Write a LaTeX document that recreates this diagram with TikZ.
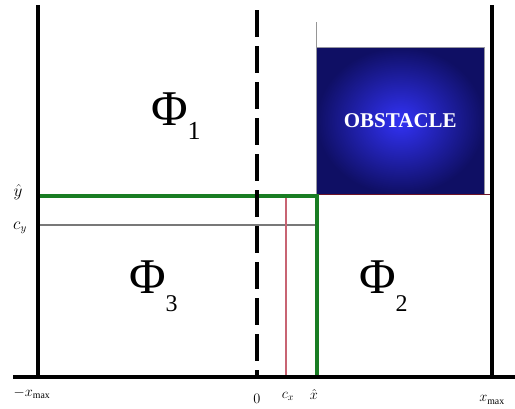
\documentclass[tikz,border=0pt]{standalone}
\usepackage{fontspec}
\setmainfont{Liberation Serif}
\begin{document}
\begin{tikzpicture}[x=1pt,y=-1pt,
  frameline/.style={line width=3.5pt,black},
  dashline/.style={line width=3.5pt,black,dash pattern=on 27pt off 9pt},
  greenline/.style={line width=3.5pt,draw={rgb,255:red,25;green,125;blue,35}},
  grayline/.style={line width=2.5pt,draw={rgb,255:red,120;green,120;blue,120}},
  redline/.style={line width=1.2pt,draw={rgb,255:red,200;green,100;blue,115}},
  darkredline/.style={line width=1.5pt,draw={rgb,255:red,110;green,20;blue,40}},
  thinline/.style={line width=1pt,draw={rgb,255:red,150;green,150;blue,150}},
  obstacle/.style={draw={rgb,255:red,150;green,150;blue,160},line width=0.6pt,
    shading=radial,inner color={rgb,255:red,50;green,50;blue,245},
    outer color={rgb,255:red,15;green,15;blue,100},
    text=white,font=\fontsize{21}{21}\selectfont\bfseries,
    minimum width=168pt,minimum height=147pt,inner sep=0pt},
  phi/.style={font=\fontsize{50}{50}\selectfont,inner sep=0pt},
  lab/.style={font=\fontsize{16}{16}\selectfont,inner sep=0pt},
  slab/.style={font=\fontsize{14}{14}\selectfont,inner sep=0pt}
]
\useasboundingbox (0,0) rectangle (515,408);
\fill[white] (0,0) rectangle (515,408);
% frame coordinates
\coordinate (LT) at (38,5);
\coordinate (LB) at (38,377);
\coordinate (RT) at (492,5);
\coordinate (RB) at (492,377);
\coordinate (AxL) at (13,377);
\coordinate (AxR) at (515,377);
\coordinate (DT) at (257,10);
\coordinate (DB) at (257,377);
\coordinate (OT) at (316,22);
\coordinate (G) at (317,196);
\coordinate (C) at (317,225);
\coordinate (R) at (286,197);
% obstacle
\node[obstacle,anchor=north west] (obs) at (316,47) {OBSTACLE};
\draw[thinline] (OT) -- (obs.north west);
\draw[darkredline] (obs.south west) -- (obs.south west -| RB);
% inner lines
\draw[grayline] (C -| LB) -- (C);
\draw[redline] (R) -- (R |- LB);
\draw[greenline] (G -| LB) -- (G) -- (G |- LB);
% frame
\draw[frameline] (LT) -- (LB);
\draw[frameline] (RT) -- (RB);
\draw[frameline] (AxL) -- (AxR);
\draw[dashline] (DT) -- (DB);
% region labels
\node[phi,anchor=base west] (p1) at (151,125) {Φ\raisebox{-14pt}{\fontsize{26}{26}\selectfont 1}};
\node[phi,anchor=base west] (p3) at (129,293) {Φ\raisebox{-18pt}{\fontsize{24}{24}\selectfont 3}};
\node[phi,anchor=base west] (p2) at (359,293) {Φ\raisebox{-18pt}{\fontsize{24}{24}\selectfont 2}};
% axis labels
\node[lab] (yh) at (18,192) {$\hat{y}$};
\node[lab] (cy) at (20,228) {$c_y$};
\node[slab] (xmin) at (32,393) {$-x_{\max}$};
\node[slab] (zero) at (257,399) {$0$};
\node[slab] (cx) at (288,396) {$c_x$};
\node[slab] (xh) at (314,394) {$\hat{x}$};
\node[slab] (xmax) at (492,400) {$x_{\max}$};
\end{tikzpicture}
\end{document}
